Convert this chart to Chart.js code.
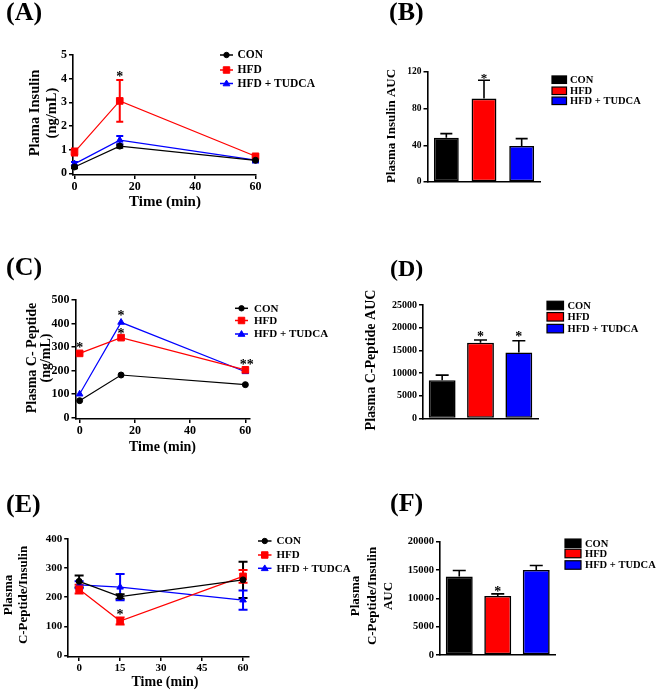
<!DOCTYPE html>
<html><head><meta charset="utf-8">
<script src="https://cdn.jsdelivr.net/npm/chart.js@4/dist/chart.umd.min.js"></script>
<style>
html,body{margin:0;padding:0;background:#fff;}
#wrap{position:relative;width:660px;height:692px;overflow:hidden;background:#fff}
canvas{position:absolute;left:0;top:0}
</style></head><body><div id="wrap">
<canvas id="cA" width="660" height="692"></canvas>
<canvas id="cB" width="660" height="692"></canvas>
<canvas id="cC" width="660" height="692"></canvas>
<canvas id="cD" width="660" height="692"></canvas>
<canvas id="cE" width="660" height="692"></canvas>
<canvas id="cF" width="660" height="692"></canvas>
</div>
<script>
// ---------------- DATA ----------------
const groups = ['CON', 'HFD', 'HFD + TUDCA'];
const timesA = [0, 15, 60];
const timesC = [0, 15, 60];
const timesE = [0, 15, 60];

// (A) Plasma insulin (ng/mL)
const insulinCON = [0.27, 1.15, 0.55];
const insulinCONErr = [0.05, 0.07, 0.05];
const insulinHFD = [0.9, 3.06, 0.72];
const insulinHFDErr = [0.15, 0.88, 0.06];
const insulinTUDCA = [0.4, 1.4, 0.56];
const insulinTUDCAErr = [0.08, 0.18, 0.1];
const insulinYTicks = [0, 1, 2, 3, 4, 5];
const timeTicksA = [0, 20, 40, 60];

// (B) Plasma insulin AUC
const insulinAUC = [48.4, 91, 39.3];
const insulinAUCErr = [4.4, 20, 8];
const insulinAUCTicks = [0, 40, 80, 120];

// (C) Plasma C-peptide (ng/mL)
const cpepCON = [72, 181, 140];
const cpepHFD = [273, 340, 203];
const cpepTUDCA = [100, 405, 195];
const cpepYTicks = [0, 100, 200, 300, 400, 500];
const timeTicksC = [0, 20, 40, 60];

// (D) Plasma C-peptide AUC
const cpepAUC = [8450, 16680, 14560];
const cpepAUCErr = [1100, 600, 2560];
const cpepAUCTicks = [0, 5000, 10000, 15000, 20000, 25000];

// (E) C-peptide / insulin
const ratioCON = [254, 202, 259];
const ratioCONErr = [20, 8, 62];
const ratioHFD = [227, 118, 271];
const ratioHFDErr = [15, 12, 22];
const ratioTUDCA = [242, 234, 190];
const ratioTUDCAErr = [12, 45, 33];
const ratioYTicks = [0, 100, 200, 300, 400];
const timeTicksE = [0, 15, 30, 45, 60];

// (F) C-peptide / insulin AUC
const ratioAUC = [13820, 10415, 15000];
const ratioAUCErr = [1060, 355, 760];
const ratioAUCTicks = [0, 5000, 10000, 15000, 20000];

// ---------------- STYLE ----------------
const FONT = '"Liberation Serif", "Times New Roman", serif';
const COLORS = ['#000000', '#ff0000', '#0000ff'];
const STYLES = ['circle', 'rect', 'triangle'];
const RADII = [3, 3.6, 3.8];

function marker(ctx, style, x, y, r, color) {
  ctx.save();
  ctx.fillStyle = color; ctx.strokeStyle = color; ctx.lineWidth = 1;
  ctx.beginPath();
  if (style === 'circle') {
    ctx.arc(x, y, r, 0, Math.PI * 2);
  } else if (style === 'rect') {
    ctx.rect(x - r, y - r, 2 * r, 2 * r);
  } else {
    const h = r * 1.6;
    ctx.moveTo(x, y - h * 0.62);
    ctx.lineTo(x + r, y + h * 0.42);
    ctx.lineTo(x - r, y + h * 0.42);
    ctx.closePath();
  }
  ctx.fill(); ctx.stroke();
  ctx.restore();
}

function yAxis(min, max, ticks, fontSize, width) {
  return {
    type: 'linear', position: 'left', min: min, max: max,
    afterBuildTicks: s => { s.ticks = ticks.map(v => ({ value: v })); },
    afterFit: s => { s.width = width; },
    grid: { display: true, drawOnChartArea: false, drawTicks: true, tickLength: 4, color: '#000', lineWidth: 1.5 },
    border: { display: true, color: '#000', width: 1.6 },
    ticks: { color: '#000', autoSkip: false, padding: 2, callback: v => String(v),
      font: { family: FONT, size: fontSize, weight: 'bold' } }
  };
}
function xLinear(min, max, ticks, fontSize, height) {
  return {
    type: 'linear', position: 'bottom', min: min, max: max,
    afterBuildTicks: s => { s.ticks = ticks.map(v => ({ value: v })); },
    afterFit: s => { s.height = height; },
    grid: { display: true, drawOnChartArea: false, drawTicks: true, tickLength: 4, color: '#000', lineWidth: 1.5 },
    border: { display: true, color: '#000', width: 1.6 },
    ticks: { color: '#000', autoSkip: false, maxRotation: 0, padding: 1, callback: v => String(v),
      font: { family: FONT, size: fontSize, weight: 'bold' } }
  };
}
function xCategory(height) {
  return {
    type: 'category', position: 'bottom', offset: true,
    afterFit: s => { s.height = height; },
    grid: { display: false },
    border: { display: true, color: '#000', width: 1.6 },
    ticks: { display: false }
  };
}
function pad(L, T, R, B, yW, xH) {
  return { left: L - yW, top: T, right: 660 - R, bottom: 692 - B - xH };
}

function drawText(ctx, txt, x, y, size, align, baseline, rot) {
  ctx.save();
  ctx.font = 'bold ' + size + 'px ' + FONT;
  ctx.fillStyle = '#000';
  ctx.textAlign = align || 'center';
  ctx.textBaseline = baseline || 'middle';
  if (rot) { ctx.translate(x, y); ctx.rotate(-Math.PI / 2); ctx.fillText(txt, 0, 0); }
  else ctx.fillText(txt, x, y);
  ctx.restore();
}
function star(ctx, txt, x, cy, size) {
  drawText(ctx, txt, x, cy + size * 0.5, size, 'center', 'alphabetic');
}

function decoPlugin(cfg) {
  return {
    id: 'deco' + cfg.id,
    beforeDatasetsDraw(chart) {
      if (!cfg.lineErr) return;
      const ctx = chart.ctx, ys = chart.scales.y;
      cfg.lineErr.forEach((errs, di) => {
        if (!errs) return;
        const meta = chart.getDatasetMeta(di);
        const data = chart.data.datasets[di].data;
        ctx.save();
        ctx.strokeStyle = COLORS[di]; ctx.lineWidth = cfg.errLW;
        meta.data.forEach((pt, i) => {
          const e = errs[i]; if (!e) return;
          const v = data[i].y;
          const y1 = ys.getPixelForValue(v + e), y2 = ys.getPixelForValue(v - e);
          ctx.beginPath();
          ctx.moveTo(pt.x, y1); ctx.lineTo(pt.x, y2);
          ctx.moveTo(pt.x - cfg.cap, y1); ctx.lineTo(pt.x + cfg.cap, y1);
          ctx.moveTo(pt.x - cfg.cap, y2); ctx.lineTo(pt.x + cfg.cap, y2);
          ctx.stroke();
        });
        ctx.restore();
      });
    },
    afterDatasetsDraw(chart) {
      if (!cfg.barErr) return;
      const ctx = chart.ctx, ys = chart.scales.y;
      const meta = chart.getDatasetMeta(0);
      const vals = chart.data.datasets[0].data;
      ctx.save();
      ctx.strokeStyle = '#000'; ctx.lineWidth = 1.6;
      meta.data.forEach((bar, i) => {
        const top = ys.getPixelForValue(vals[i]);
        const y1 = ys.getPixelForValue(vals[i] + cfg.barErr[i]);
        ctx.beginPath();
        ctx.moveTo(bar.x, top); ctx.lineTo(bar.x, y1);
        ctx.moveTo(bar.x - cfg.cap, y1); ctx.lineTo(bar.x + cfg.cap, y1);
        ctx.stroke();
      });
      ctx.restore();
    },
    afterDraw(chart) {
      const ctx = chart.ctx;
      drawText(ctx, cfg.label[0], cfg.label[1], cfg.label[2], cfg.label[3], 'left', 'alphabetic');
      cfg.yTitle.lines.forEach((t, i) => drawText(ctx, t, cfg.yTitle.xs[i], cfg.yTitle.cy, cfg.yTitle.size, 'center', 'middle', true));
      if (cfg.xTitle) drawText(ctx, cfg.xTitle[0], cfg.xTitle[1], cfg.xTitle[2], cfg.xTitle[3]);
      const lg = cfg.legend;
      groups.forEach((g, i) => {
        const y = lg.ys[i];
        if (lg.type === 'line') {
          ctx.save(); ctx.strokeStyle = COLORS[i]; ctx.lineWidth = 1.5;
          ctx.beginPath(); ctx.moveTo(lg.x1, y); ctx.lineTo(lg.x2, y); ctx.stroke(); ctx.restore();
          marker(ctx, STYLES[i], (lg.x1 + lg.x2) / 2, y, RADII[i] * 0.9, COLORS[i]);
        } else {
          ctx.save(); ctx.fillStyle = COLORS[i]; ctx.strokeStyle = '#000'; ctx.lineWidth = 1.2;
          ctx.fillRect(lg.x1, y - lg.h / 2, lg.x2 - lg.x1, lg.h);
          ctx.strokeRect(lg.x1, y - lg.h / 2, lg.x2 - lg.x1, lg.h);
          ctx.restore();
        }
        drawText(ctx, g, lg.tx, y + 0.5, lg.size, 'left', 'middle');
      });
      (cfg.stars || []).forEach(s => {
        let x;
        if (s.bar !== undefined) x = chart.getDatasetMeta(0).data[s.bar].x;
        else x = chart.scales.x.getPixelForValue(s.t) + (s.dx || 0);
        star(ctx, s.txt || '*', x, s.y, cfg.starSize);
      });
    }
  };
}

function lineSets(times, series) {
  return series.map((vals, i) => ({
    label: groups[i],
    data: times.map((t, k) => ({ x: t, y: vals[k] })),
    borderColor: COLORS[i], backgroundColor: COLORS[i],
    borderWidth: 1.2, tension: 0, clip: false,
    pointStyle: STYLES[i], pointRadius: RADII[i] * (i === 1 ? 1.3 : 1), pointHoverRadius: RADII[i],
    pointBackgroundColor: COLORS[i], pointBorderColor: COLORS[i], pointBorderWidth: 1
  }));
}
function barSet(vals, pct) {
  return [{
    data: vals, backgroundColor: COLORS, borderColor: '#000', borderWidth: 1.6,
    borderSkipped: false, categoryPercentage: 1, barPercentage: pct, clip: false
  }];
}
const base = { responsive: false, animation: false, events: [], plugins: { legend: { display: false }, tooltip: { enabled: false } } };

// ---------------- (A) ----------------
new Chart(document.getElementById('cA'), {
  type: 'line',
  data: { datasets: lineSets(timesA, [insulinCON, insulinHFD, insulinTUDCA]) },
  options: Object.assign({}, base, {
    layout: { padding: pad(73, 55, 255.5, 175, 30, 24) },
    scales: { x: xLinear(-0.5, 60, timeTicksA, 12, 24), y: yAxis(-0.07, 5, insulinYTicks, 12, 30) }
  }),
  plugins: [decoPlugin({ id: 'A', label: ['(A)', 6, 20, 26],
    yTitle: { lines: ['Plama Insulin', '(ng/mL)'], xs: [35.5, 52], cy: 113, size: 14.5 },
    xTitle: ['Time (min)', 165, 202, 15],
    legend: { type: 'line', x1: 220, x2: 233, tx: 237.5, ys: [55, 70, 83.5], size: 11.5 },
    lineErr: [insulinCONErr, insulinHFDErr, insulinTUDCAErr], errLW: 2, cap: 3.5,
    stars: [{ t: 15, y: 74 }], starSize: 14 })]
});

// ---------------- (B) ----------------
new Chart(document.getElementById('cB'), {
  type: 'bar',
  data: { labels: groups, datasets: barSet(insulinAUC, 0.66) },
  options: Object.assign({}, base, {
    layout: { padding: pad(427.5, 72, 540.5, 182, 30, 10) },
    scales: { x: xCategory(10), y: yAxis(0, 120, insulinAUCTicks, 9.5, 30) }
  }),
  plugins: [decoPlugin({ id: 'B', label: ['(B)', 389, 20, 26],
    yTitle: { lines: ['Plasma Insulin AUC'], xs: [392], cy: 126, size: 13 },
    legend: { type: 'box', x1: 552, x2: 566.5, h: 7.5, tx: 570, ys: [79.7, 90.8, 100.8], size: 10.5 },
    barErr: insulinAUCErr, cap: 6,
    stars: [{ bar: 1, y: 75 }], starSize: 13 })]
});

// ---------------- (C) ----------------
new Chart(document.getElementById('cC'), {
  type: 'line',
  data: { datasets: lineSets(timesC, [cpepCON, cpepHFD, cpepTUDCA]) },
  options: Object.assign({}, base, {
    layout: { padding: pad(75.5, 300, 249.5, 419, 34, 22) },
    scales: { x: xLinear(-1.5, 61.5, timeTicksC, 12, 22), y: yAxis(-6, 500, cpepYTicks, 12, 34) }
  }),
  plugins: [decoPlugin({ id: 'C', label: ['(C)', 6, 275, 26],
    yTitle: { lines: ['Plasma C- Peptide', '(ng/mL)'], xs: [32, 46], cy: 358, size: 14 },
    xTitle: ['Time (min)', 162.5, 447, 14],
    legend: { type: 'line', x1: 235, x2: 248, tx: 254, ys: [308.3, 320.5, 334], size: 11 },
    stars: [{ t: 0, y: 345 }, { t: 15, y: 312.5 }, { t: 15, y: 331 }, { t: 60, y: 362, txt: '**', dx: 1.5 }], starSize: 14 })]
});

// ---------------- (D) ----------------
new Chart(document.getElementById('cD'), {
  type: 'bar',
  data: { labels: groups, datasets: barSet(cpepAUC, 0.7) },
  options: Object.assign({}, base, {
    layout: { padding: pad(423, 305, 538, 418.5, 40, 10) },
    scales: { x: xCategory(10), y: yAxis(0, 25000, cpepAUCTicks, 10, 40) }
  }),
  plugins: [decoPlugin({ id: 'D', label: ['(D)', 390, 276, 24],
    yTitle: { lines: ['Plasma C-Peptide AUC'], xs: [371], cy: 360, size: 14 },
    legend: { type: 'box', x1: 547, x2: 563.5, h: 8.5, tx: 567.5, ys: [305.5, 316.8, 328.6], size: 10.5 },
    barErr: cpepAUCErr, cap: 6.5,
    stars: [{ bar: 1, y: 333.5 }, { bar: 2, y: 333.5 }], starSize: 14 })]
});

// ---------------- (E) ----------------
new Chart(document.getElementById('cE'), {
  type: 'line',
  data: { datasets: lineSets(timesE, [ratioCON, ratioHFD, ratioTUDCA]) },
  options: Object.assign({}, base, {
    layout: { padding: pad(68.2, 538.7, 248.5, 657, 30, 22) },
    scales: { x: xLinear(-4, 62, timeTicksE, 11, 22), y: yAxis(-5, 400, ratioYTicks, 11, 30) }
  }),
  plugins: [decoPlugin({ id: 'E', label: ['(E)', 6, 511.5, 26],
    yTitle: { lines: ['Plasma', 'C-Peptide/Insulin'], xs: [8.5, 24], cy: 595, size: 13 },
    xTitle: ['Time (min)', 165, 682, 14],
    legend: { type: 'line', x1: 258, x2: 271.5, tx: 276.5, ys: [541, 555, 568.3], size: 11 },
    lineErr: [ratioCONErr, ratioHFDErr, ratioTUDCAErr], errLW: 2, cap: 4.5,
    stars: [{ t: 15, y: 612 }], starSize: 14 })]
});

// ---------------- (F) ----------------
new Chart(document.getElementById('cF'), {
  type: 'bar',
  data: { labels: groups, datasets: barSet(ratioAUC, 0.7) },
  options: Object.assign({}, base, {
    layout: { padding: pad(440, 541.5, 555.5, 655, 40, 10) },
    scales: { x: xCategory(10), y: yAxis(0, 20000, ratioAUCTicks, 10.5, 40) }
  }),
  plugins: [decoPlugin({ id: 'F', label: ['(F)', 390, 510.5, 26],
    yTitle: { lines: ['Plasma', 'C-Peptide/Insulin', 'AUC'], xs: [356, 372.5, 388.5], cy: 596, size: 13 },
    legend: { type: 'box', x1: 565, x2: 581, h: 8.5, tx: 585, ys: [543.3, 553.5, 565], size: 10.5 },
    barErr: ratioAUCErr, cap: 6.5,
    stars: [{ bar: 1, y: 589 }], starSize: 14 })]
});
</script>
</body></html>
